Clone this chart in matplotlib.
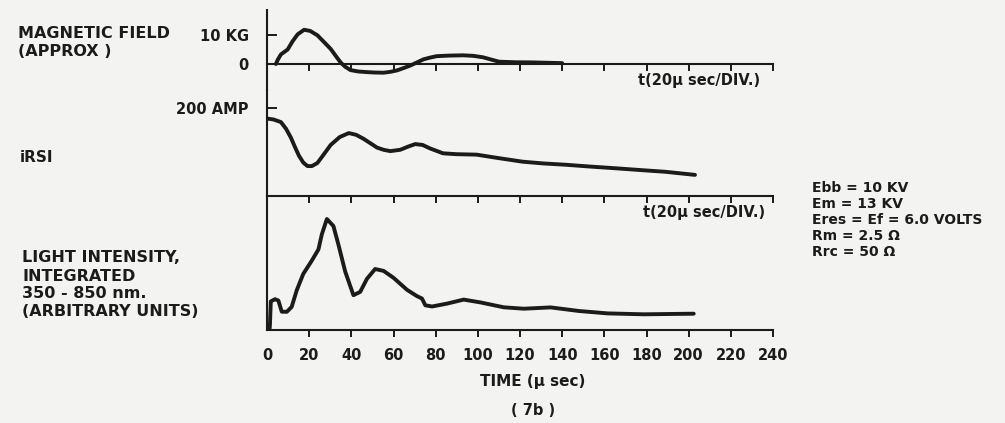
import matplotlib
matplotlib.use("Agg")
import matplotlib.pyplot as plt

# time axis (micro seconds)
time_ticks = list(range(0, 241, 20))

# magnetic field trace (KG)
field_t = [4.2, 5.2, 6.6, 9.8, 12.1, 14.5, 17.6, 20.5, 23.9, 27.0, 30.2, 32.5, 34.9, 37.0,
           39.6, 43.5, 47.5, 51.5, 55.3, 58.5, 61.7, 64.8, 67.9, 71.0, 74.2, 77.3, 80.5,
           86.5, 93.0, 98.0, 102.5, 106.0, 110.0, 118.0, 126.0, 140.0]
field_kg = [0.0, 1.6, 3.3, 5.0, 7.8, 10.2, 11.8, 11.4, 9.9, 7.6, 5.2, 2.9, 0.55, -0.9,
            -2.1, -2.6, -2.8, -2.95, -3.0, -2.7, -2.2, -1.4, -0.55, 0.5, 1.6, 2.2, 2.7,
            2.9, 3.0, 2.8, 2.3, 1.6, 0.8, 0.6, 0.55, 0.3]

# discharge current trace (AMP)
irsi_t = [0.0, 3.0, 6.6, 9.0, 11.3, 13.2, 15.1, 17.2, 19.2, 21.3, 23.9, 27.0, 30.2, 34.5,
          38.8, 42.3, 45.8, 49.0, 52.2, 55.3, 58.5, 63.2, 66.8, 70.3, 73.8, 77.4, 83.5,
          90.0, 99.4, 110.0, 121.2, 131.0, 141.8, 153.0, 165.4, 177.0, 189.0, 203.0]
irsi_amp = [176, 174, 168, 153, 133, 112, 92, 76, 68, 68, 75, 95, 116, 134,
            143, 139, 130, 120, 110, 105, 102, 105, 112, 118, 116, 108, 97,
            95, 94, 86, 78, 74, 71, 67, 63, 59, 55, 48]

# integrated light intensity (arbitrary units)
light_t = [1.2, 1.4, 1.8, 3.8, 5.4, 7.0, 9.4, 11.7, 14.1, 17.2, 21.2, 24.4, 26.0, 28.4,
           31.5, 33.9, 37.1, 41.0, 44.2, 47.4, 51.3, 55.3, 60.0, 66.4, 71.1, 73.5, 75.1,
           78.3, 85.4, 93.3, 101.2, 112.3, 121.8, 134.5, 148.0, 161.6, 178.7, 202.4]
light_au = [0, 5.6, 28.6, 30.8, 29.4, 18.3, 18.2, 23.1, 39.7, 56.1, 69.2, 80.6, 95.6, 111.0,
            104.0, 85.2, 58.4, 34.8, 38.1, 51.2, 61.0, 59.1, 52.2, 40.2, 33.9, 31.5, 24.7,
            23.5, 26.4, 30.4, 27.6, 22.7, 21.3, 22.6, 19.0, 16.6, 15.7, 16.3]

W, H = 1005, 423
ink = "#1b1b1b"
bg = "#f3f3f1"
font = dict(family="DejaVu Sans", fontweight="bold", color=ink)

fig = plt.figure(figsize=(W / 100, H / 100), dpi=100, facecolor=bg)


def px_axes(top, bottom):
    x0, x1 = 267, 773
    return fig.add_axes([x0 / W, 1 - bottom / H, (x1 - x0) / W, (bottom - top) / H])


def ftext(x, y, s, size=10.5, ha="left", va="center"):
    fig.text(x / W, 1 - y / H, s, fontsize=size, ha=ha, va=va, **font)


ax_top = px_axes(10, 90)
ax_mid = px_axes(90, 196)
ax_bot = px_axes(196, 330)

for ax in (ax_top, ax_mid, ax_bot):
    ax.set_facecolor("none")
    ax.set_xlim(0, 240)
    for side in ("top", "right"):
        ax.spines[side].set_visible(False)
    for side in ("left", "bottom"):
        ax.spines[side].set_linewidth(1.5)
        ax.spines[side].set_color(ink)
    ax.set_xticks(time_ticks)
    ax.tick_params(axis="x", direction="out", length=5, width=1.4, color=ink,
                   labelbottom=False)
    ax.tick_params(axis="y", direction="in", length=7, width=1.4, color=ink,
                   labelsize=10.5, labelcolor=ink, pad=13)
    ax.xaxis.get_major_ticks()[0].tick1line.set_visible(False)

# magnetic field
ax_top.set_ylim(-26 / 2.9, 54 / 2.9)
ax_top.spines["bottom"].set_position(("data", 0))
ax_top.plot(field_t, field_kg, color=ink, lw=2.8, solid_capstyle="round",
            solid_joinstyle="round")
ax_top.set_yticks([0, 10])
ax_top.set_yticklabels(["0", "10 KG"], fontweight="bold")

# current
ax_mid.set_ylim(0, 106 / 0.44)
ax_mid.plot(irsi_t, irsi_amp, color=ink, lw=2.8, solid_capstyle="round",
            solid_joinstyle="round")
ax_mid.set_yticks([200])
ax_mid.set_yticklabels(["200 AMP"], fontweight="bold")

# light
ax_bot.set_ylim(0, 134)
ax_bot.plot(light_t, light_au, color=ink, lw=2.8, solid_capstyle="round",
            solid_joinstyle="round")
ax_bot.set_yticks([])
ax_bot.tick_params(axis="x", labelbottom=True, labelsize=10.5, labelcolor=ink, pad=8)
for lbl in ax_bot.get_xticklabels():
    lbl.set_fontweight("bold")

# trace labels
ftext(18, 33, "MAGNETIC FIELD", size=11.5)
ftext(18, 52, "(APPROX )", size=11.5)
ftext(20, 157, "iRSI", size=11)
ftext(22, 258, "LIGHT INTENSITY,", size=11.5)
ftext(22, 276, "INTEGRATED", size=11.5)
ftext(22, 294, "350 - 850 nm.", size=11.5)
ftext(22, 312, "(ARBITRARY UNITS)", size=11.5)

ftext(638, 80, "t(20μ sec/DIV.)", size=10.5)
ftext(643, 212, "t(20μ sec/DIV.)", size=10.5)

# operating conditions
ftext(812, 188, "Ebb = 10 KV", size=10)
ftext(812, 204, "Em = 13 KV", size=10)
ftext(812, 220, "Eres = Ef = 6.0 VOLTS", size=10)
ftext(812, 236, "Rm = 2.5 Ω", size=10)
ftext(812, 252, "Rrc = 50 Ω", size=10)

ftext(533, 381, "TIME (μ sec)", size=11, ha="center")
ftext(533, 410, "( 7b )", size=10.5, ha="center")

fig.savefig("out.png", dpi=100, facecolor=bg)
